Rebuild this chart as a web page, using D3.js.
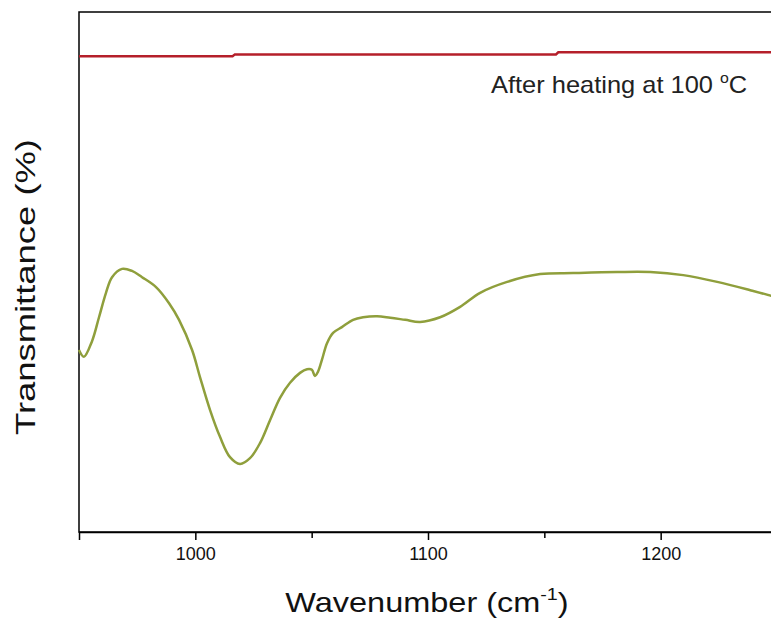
<!DOCTYPE html>
<html>
<head>
<meta charset="utf-8">
<script src="https://cdn.jsdelivr.net/npm/d3@7"></script>
<style>
  body { margin: 0; background: #fff; }
  svg { display: block; font-family: Arial, "Liberation Sans", sans-serif; }
</style>
</head>
<body>
<div id="chart"></div>
<script>
// wavenumbers (cm-1) and transmittance readings (arbitrary %)
const greenWave = [950.0, 952.1, 955.6, 958.6, 961.6, 964.2, 968.5, 972.8, 977.1, 983.1,
  988.7, 993.0, 998.6, 1002.0, 1006.3, 1010.6, 1014.9, 1019.2, 1023.5, 1027.8,
  1032.1, 1036.4, 1040.7, 1045.0, 1048.0, 1050.1, 1051.4, 1052.7, 1054.4, 1056.6,
  1059.2, 1063.0, 1067.8, 1072.1, 1078.1, 1083.8, 1090.2, 1096.6, 1105.2, 1113.8,
  1122.4, 1134.0, 1148.2, 1162.4, 1181.3, 1195.5, 1209.7, 1224.3, 1238.5, 1247.5, 1250.0]
const greenT = [35.0, 33.7, 36.7, 41.3, 46.0, 49.0, 50.6, 50.2, 49.0, 47.1,
  44.0, 40.8, 35.0, 29.8, 23.5, 18.3, 14.4, 13.1, 14.2, 17.1,
  21.5, 25.8, 28.7, 30.6, 31.3, 31.2, 30.0, 30.8, 33.1, 36.3,
  38.3, 39.4, 40.8, 41.3, 41.5, 41.2, 40.8, 40.4, 41.3, 43.3,
  46.0, 48.1, 49.6, 49.8, 50.0, 50.0, 49.4, 48.1, 46.5, 45.4, 45.0]

const redWave = [950, 1016, 1017, 1155, 1156, 1250]
const redT = [91.5, 91.5, 91.85, 91.85, 92.25, 92.25]

const xTicks = [1000, 1100, 1200]
const xMinorTicks = [1050, 1150]

const width = 771, height = 625
const margin = {top: 12, left: 79, bottom: 93}
const plotW = 698 // the right frame edge falls just outside the picture

const svg = d3.select("#chart").append("svg")
  .attr("width", width)
  .attr("height", height)

const x = d3.scaleLinear().domain([950, 1250]).range([margin.left, margin.left + plotW])
const y = d3.scaleLinear().domain([0, 100]).range([height - margin.bottom, margin.top])

// frame
svg.append("rect")
  .attr("x", margin.left)
  .attr("y", margin.top)
  .attr("width", plotW)
  .attr("height", y(0) - margin.top)
  .attr("fill", "none")
  .attr("stroke", "#000")
  .attr("stroke-width", 1.5)

// x axis with major / minor ticks
const xAxis = svg.append("g")
  .attr("transform", `translate(0,${y(0)})`)
  .call(d3.axisBottom(x).tickValues(xTicks).tickSize(8).tickPadding(7).tickFormat(d3.format("d")))
xAxis.select(".domain").attr("stroke-width", 1.5)
xAxis.selectAll(".tick line").attr("stroke-width", 1.5)
xAxis.selectAll("text").attr("font-size", 18).attr("fill", "#111")
  .attr("font-family", "Arial, 'Liberation Sans', sans-serif")

svg.append("g")
  .attr("transform", `translate(0,${y(0)})`)
  .call(d3.axisBottom(x).tickValues(xMinorTicks).tickSize(6).tickFormat(""))
  .call(g => g.select(".domain").remove())
  .selectAll(".tick line").attr("stroke-width", 1.5)

// lines
const line = d3.line().curve(d3.curveCatmullRom)

svg.append("path")
  .attr("d", line(greenWave.map((w, i) => [x(w), y(greenT[i])])))
  .attr("fill", "none")
  .attr("stroke", "#8f9f3c")
  .attr("stroke-width", 2.5)

svg.append("path")
  .attr("d", d3.line()(redWave.map((w, i) => [x(w), y(redT[i])])))
  .attr("fill", "none")
  .attr("stroke", "#b51f2a")
  .attr("stroke-width", 2.5)

// annotation (the source figure is slightly stretched sideways)
const note = svg.append("text")
  .attr("transform", "translate(491,93) scale(1.06,1)")
  .attr("font-size", 24)
  .attr("fill", "#222")
note.append("tspan").text("After heating at 100 ")
note.append("tspan").attr("font-size", 15).attr("dy", -10).text("o")
note.append("tspan").attr("dy", 10).text("C")

// axis titles
const xt = svg.append("text")
  .attr("transform", "translate(427,612) scale(1.16,1)")
  .attr("text-anchor", "middle")
  .attr("font-size", 28)
  .attr("fill", "#111")
xt.append("tspan").text("Wavenumber (cm")
xt.append("tspan").attr("font-size", 17).attr("dy", -12).text("-1")
xt.append("tspan").attr("dy", 12).text(")")

svg.append("text")
  .attr("transform", "translate(35,287) rotate(-90) scale(1.3,1)")
  .attr("text-anchor", "middle")
  .attr("font-size", 28)
  .attr("fill", "#111")
  .text("Transmittance (%)")
</script>
</body>
</html>
